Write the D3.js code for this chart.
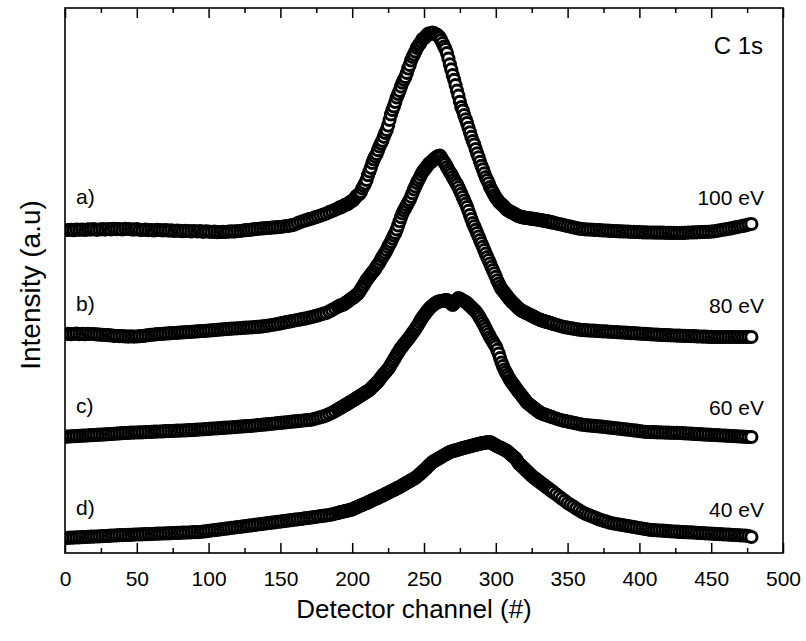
<!DOCTYPE html>
<html><head><meta charset="utf-8">
<script src="https://cdn.jsdelivr.net/npm/d3@7"></script>
<style>body{margin:0;background:#fff}svg{display:block}text{font-family:"Liberation Sans",Arial,sans-serif;fill:#000}</style>
</head><body><svg id="c" width="806" height="641"></svg>
<script>
// ---- data ----
const xTicks = [0,50,100,150,200,250,300,350,400,450,500];
const xMinorTicks = [25,75,125,175,225,275,325,375,425,475];
// detector channels sampled: every 2nd channel on the flanks, every channel across the peak region
const channels = [].concat(d3.range(0, 190, 2), d3.range(190, 341, 1), d3.range(342, 479, 2));
const energyLabels = ["100 eV","80 eV","60 eV","40 eV"];
const panelLabels = ["a)","b)","c)","d)"];
const s100eV = [
323,323,323.2,322.8,323.4,323.2,323.5,323,323.6,323.4,323.8,323.2,323.5,323.8,323.4,324,323.6,324.2,323.8,324,
323.5,324.2,324,323.7,323.4,323.8,323.2,323,323.4,322.8,323,322.6,323.2,323,322.6,322.8,322.4,322.6,322,322.4,
322.2,321.8,322.2,322,321.6,322,321.5,321.8,321.2,321.6,321.4,321,321.4,320.8,321,321.2,321,321.4,321.6,321.4,
322,322,322.5,322.8,323,323.4,323.8,324,324.5,324.6,325,325,325.4,325.6,325.8,326,326.5,327,327.2,327.8,
328.5,329.8,331,332,332.8,333.8,334.5,335.6,336.4,337.4,338.5,339.5,340.8,342,343.2,
344.4,345.3,345.8,346.2,347.2,348.1,348.5,349,350.2,351.4,
352,353.2,355,356.9,358,359.1,361,364.5,367,369.4,
373,377.8,381.5,385.2,390,393.6,396.4,399.1,402.8,406.6,
409.4,412.3,416.2,420.1,423,427.4,433,438.6,443,446.5,
451,455.6,459,462.2,466.4,470.3,473.2,476.1,480,484.4,
488,492.5,496,498.4,501.6,505,507.2,509,511.6,513.9,
514.8,516,518,519.3,519.2,519.6,520.3,520,518.7,518.3,
517.1,515.5,513,509.8,506.5,503.9,500,494.5,488.7,483.6,
478,473.2,468,462.3,457.3,451.2,446,442.4,438,433.7,
430,425.2,420.7,416.1,412,408.4,404,399.6,395.7,391.2,
387.2,383.7,379.6,376,372.8,369.7,366,363.2,360.8,357.9,
355.6,353.4,351.6,350,348.7,347.4,345.9,344.3,343,342.3,
341.4,340.6,339.9,339.2,338.3,337.4,336.8,336.4,335.8,335.6,
335.4,335.2,335,334.7,334.5,334.3,334.1,333.9,333.7,333.5,
333.2,332.9,332.7,332.4,332.1,331.9,331.6,331.3,331,330.6,
330.3,
329.7,329,328.3,327.7,327,326.3,325.7,325,324.3,
324,323.7,323.5,323.4,323.2,323,322.8,322.6,322.5,322.3,322.1,322,321.9,321.7,321.6,321.5,321.4,321.2,321.1,321,
320.8,320.7,320.6,320.5,320.5,320.4,320.4,320.3,320.3,320.2,320.2,320.1,320.1,320,320,320.1,320.2,320.4,320.5,320.6,
320.7,320.8,321,321.1,321.2,321.4,321.7,322.2,322.7,323.2,323.7,324.2,324.7,325.3,325.9,326.5,327.1,327.7,328.4,329];
const s80eV = [
219,219.2,218.8,219,219.3,218.9,219.1,218.8,219.2,219,219,218.6,218.4,218.2,218,217.8,217.6,217.2,217,216.8,
216.8,216.6,216.4,216.6,216.4,216.5,216.8,217,217.4,217.8,218.2,218.4,218.8,219,219.2,219.4,219.6,219.8,220,220.2,
220.4,220.6,220.8,221,221.2,221.4,221.6,221.8,222,222.2,222.4,222.7,222.9,223.2,223.4,223.7,223.9,224.1,224.3,224.5,
224.7,224.9,225.1,225.3,225.5,225.7,225.9,226.1,226.3,226.7,227.1,227.5,228,228.5,229,229.6,230.2,230.8,231.3,231.9,
232.5,233,233.6,234.1,234.7,235.3,236,236.8,237.6,238.5,239.3,240,241.6,243.1,244.7,
246.2,247.1,247.7,247.9,248.5,249.8,250.6,251.5,252.7,253.9,
254.8,255.6,256.9,258.3,259.3,261.2,263.6,265.9,267.9,270.6,
273,274.7,276.7,278.4,280.4,282.1,284.1,286.5,288.4,290.6,
293.3,295.9,298.1,300.4,303,305.9,308.7,311.3,314.4,317.6,
320.1,323.6,327.5,331.8,335.8,339.5,342.6,345.1,347.8,350.6,
353,356.2,359.8,363.5,366.6,369.9,372.8,375.3,378.2,380.9,
383,384.6,386.6,388.6,390,391,392.4,393.9,394.8,396.2,
397,397.4,395.6,393.1,391,388.8,386,383.2,381,378.7,
376,373.2,370.8,368.4,365.6,362.3,359.2,355.8,352.4,349.2,
346,342.1,338,333.9,330,326.7,323.2,319.9,316.4,312.9,
309.6,306.2,302.8,299.3,296,292.8,289.5,286.1,283,279.6,
276.2,272.6,269.4,266.6,264.1,262.3,260.4,258.5,256.7,254.8,
253,251.6,250.1,248.7,247.3,245.8,244.4,243.3,242.3,241.6,
240.9,240.1,239.4,238.7,238,237.3,236.6,235.8,235.1,234.4,
233.7,233.1,232.6,232.1,231.7,231.3,230.9,230.4,230,229.5,
229.1,
228.2,227.4,226.5,225.8,225.3,224.8,224.3,223.8,223.3,
222.9,222.8,222.6,222.4,222.3,222.1,221.9,221.7,221.6,221.4,221.2,221,220.8,220.7,220.5,220.3,220.1,219.9,219.8,219.6,
219.4,219.2,219.1,218.9,218.7,218.5,218.3,218.2,218,217.9,217.8,217.7,217.5,217.4,217.3,217.2,217.1,217,216.9,216.8,
216.6,216.5,216.4,216.3,216.2,216.1,216,216,216,216,216,216,216,216,216,216,216,216,216,216];
const s60eV = [
116.3,116.4,116.6,116.8,116.9,117.1,117.3,117.4,117.6,117.8,117.9,118.1,118.3,118.4,118.6,118.8,119,119.2,119.4,119.6,
119.8,120,120.1,120.3,120.4,120.5,120.6,120.7,120.9,121,121.1,121.3,121.4,121.5,121.6,121.8,121.9,122,122.2,122.3,
122.4,122.5,122.6,122.8,122.9,123.1,123.3,123.5,123.7,123.9,124.1,124.3,124.5,124.7,124.9,125.1,125.3,125.5,125.7,125.9,
126.2,126.4,126.6,126.8,127,127.2,127.5,127.8,128,128.3,128.6,128.9,129.2,129.5,129.8,130.1,130.4,130.7,131,131.3,
131.6,131.9,132.2,132.5,132.8,133,133.4,134.2,135,135.8,136.6,137.6,139,140.3,141.8,
143.5,144.4,145.2,146,146.9,147.8,148.6,149.4,150.3,151.2,
152,152.9,153.8,154.8,155.7,156.6,157.5,158.4,159.3,160.3,
161.2,162,163,164.5,165.9,167.2,168.7,170.1,171.6,173.5,
175.3,177.2,179,180.6,182.3,184.1,186,188.5,190.9,193.3,
195.7,198.2,200.6,202.9,205,206.8,208.7,210.4,212.3,214.1,
216,218,220,222,224,226.3,228.5,231,233.5,235.7,
237.8,239.6,241.4,243.3,245,246.2,247.4,248.7,249.8,250.6,
251.3,251.7,251.9,252.1,252.4,252.8,253,251.8,250.5,249.2,
248,249.7,251.5,253.4,255,254.2,253.3,252.5,251.7,250.9,
250,248.6,247.1,245.7,244.3,242.9,241.4,239.6,237.5,235.1,
232.5,229.9,227.2,224.4,221.6,218.8,216,213.6,211.2,208.8,
206.4,203.1,199.5,195,190.5,186.9,183.4,180.8,178.2,175.6,
173,171,169,167,165,163,161.1,159.2,157.4,155.5,
153.7,151.8,150,148.9,147.8,146.7,145.6,144.4,143.3,142.2,
141.1,140.3,139.5,139,138.5,138,137.5,137,136.5,136,
135.5,
134.5,133.5,132.7,132.1,131.4,130.8,130.2,129.6,128.9,
128.3,128,127.7,127.4,127.1,126.9,126.6,126.3,126,125.6,125.3,125,124.7,124.3,124,123.6,123.3,123,122.6,122.3,
121.9,121.5,121.2,121,120.9,120.8,120.7,120.6,120.5,120.4,120.3,120.2,120.2,120.1,120,119.8,119.6,119.5,119.3,119.1,
118.9,118.8,118.6,118.4,118.3,118.1,118,117.8,117.7,117.5,117.3,117.2,117,116.8,116.7,116.5,116.3,116.2,116,116];
const s40eV = [
15,15.1,15.3,15.4,15.6,15.7,15.8,16,16.1,16.3,16.4,16.5,16.7,16.8,17,17.1,17.3,17.5,17.6,17.8,
17.9,18,18.1,18.2,18.4,18.5,18.6,18.7,18.8,18.9,19,19.2,19.3,19.4,19.5,19.6,19.7,19.8,20,20.1,
20.2,20.3,20.4,20.5,20.7,20.8,20.9,21,21.4,21.7,22.1,22.5,22.9,23.2,23.6,24,24.3,24.7,25.1,25.5,
25.8,26.2,26.6,26.9,27.3,27.7,28.1,28.5,28.8,29.2,29.6,30,30.3,30.7,31.1,31.4,31.8,32.2,32.6,32.9,
33.3,33.7,34,34.4,34.8,35.2,35.6,36,36.4,36.8,37.2,37.6,38,38.6,39.3,
40,40.4,40.8,41.2,41.5,41.9,42.2,42.5,42.8,43.2,
43.6,44.3,44.9,45.6,46.2,46.9,47.5,48.1,48.7,49.4,
50,50.6,51.3,52,52.7,53.4,54,54.6,55.3,56,
56.7,57.3,58,58.8,59.5,60.2,60.9,61.7,62.4,63.1,
63.8,64.6,65.3,66,66.8,67.7,68.5,69.4,70.2,71,
71.8,72.7,73.5,74.3,75.2,76.2,77.4,78.8,80.1,81.5,
82.8,84.1,85.5,86.9,88.3,89.7,91,91.9,92.7,93.5,
94.3,95.2,96,96.9,97.7,98.5,99.3,100.2,101,101.4,
101.8,102.3,102.7,103.1,103.5,103.9,104.3,104.8,105.2,105.6,
106,106.3,106.7,107.1,107.5,107.8,108.2,108.6,108.9,109.3,
109.6,109.9,110.2,110.4,110.6,110.8,111,110.1,109.3,108.5,
107.6,106.8,105.9,105.4,104.8,104,103.3,102.5,101.7,100.5,
99.2,97.9,96.7,95.5,94.2,91.9,89.6,88.2,86.9,85.5,
84.2,82.8,81.5,80.1,78.7,77.3,76,74.9,73.8,72.8,
71.7,70.6,69.5,68.4,67.3,66.2,65.2,64.1,63,61.9,
60.8,
58.7,56.5,54.3,52.2,50,48.2,46.4,44.5,42.7,
40.9,39.4,38.3,37.2,36,34.8,33.6,32.7,31.8,30.9,30,29.5,29,28.5,28,27.5,27,26.5,26,25.5,
25,24.5,24,23.5,23,22.9,22.7,22.5,22.3,22.1,21.9,21.7,21.5,21.3,21.1,20.9,20.8,20.7,20.6,20.4,
20.2,20,19.9,19.7,19.5,19.3,19.2,19,18.9,18.7,18.5,18.4,18.2,18,17.9,17.7,17.5,17.4,17,16];
const seriesList = [s100eV, s80eV, s60eV, s40eV];

// ---- layout ----
const W = 806, H = 641;
const m = {l: 65, r: 23, t: 8, b: 88};
const pw = W - m.l - m.r, ph = H - m.t - m.b;
const svg = d3.select("#c");
const x = d3.scaleLinear().domain([0, 500]).range([m.l, m.l + pw]);
const y = d3.scaleLinear().domain([0, 545]).range([m.t + ph, m.t]);

svg.append("defs").append("clipPath").attr("id","clip")
  .append("rect").attr("x", m.l).attr("y", m.t).attr("width", pw).attr("height", ph);

// points
const plot = svg.append("g").attr("clip-path","url(#clip)");
seriesList.forEach(vals => {
  plot.append("g").selectAll("circle")
    .data(channels.map((c, i) => ({c, v: vals[i]})).filter(d => d.v !== undefined))
    .join("circle")
    .attr("cx", d => x(d.c)).attr("cy", d => y(d.v))
    .attr("r", 5.6)
    .attr("fill", "#fff").attr("stroke", "#000").attr("stroke-width", 3);
});

// axes
const fmt = d3.format("d");
const gB = svg.append("g").attr("transform", `translate(0,${m.t + ph})`)
  .call(d3.axisBottom(x).tickValues(xTicks).tickFormat(fmt).tickSizeInner(-10).tickSizeOuter(0).tickPadding(18));
const gBm = svg.append("g").attr("transform", `translate(0,${m.t + ph})`)
  .call(d3.axisBottom(x).tickValues(xMinorTicks).tickFormat("").tickSizeInner(-5).tickSizeOuter(0));
const gT = svg.append("g").attr("transform", `translate(0,${m.t})`)
  .call(d3.axisTop(x).tickValues(xTicks).tickFormat("").tickSizeInner(-10).tickSizeOuter(0));
const gTm = svg.append("g").attr("transform", `translate(0,${m.t})`)
  .call(d3.axisTop(x).tickValues(xMinorTicks).tickFormat("").tickSizeInner(-5).tickSizeOuter(0));
[gB, gBm, gT, gTm].forEach(g => {
  g.select(".domain").remove();
  g.selectAll("line").attr("stroke", "#000").attr("stroke-width", 1.5);
  g.selectAll("text").attr("font-size", 21).attr("font-family", '"Liberation Sans",Arial,sans-serif').attr("fill","#000");
});

svg.append("rect").attr("x", m.l).attr("y", m.t).attr("width", pw).attr("height", ph)
  .attr("fill", "none").attr("stroke", "#000").attr("stroke-width", 1.6);

// labels
const lblY = [204, 311, 413, 515];
const eY = [205, 313, 415, 517];
panelLabels.forEach((t, i) => svg.append("text").attr("x", 76).attr("y", lblY[i]).attr("font-size", 21).text(t));
energyLabels.forEach((t, i) => svg.append("text").attr("x", 764).attr("y", eY[i]).attr("font-size", 21).attr("text-anchor","end").text(t));
svg.append("text").attr("x", 763).attr("y", 54).attr("font-size", 24).attr("text-anchor","end").text("C 1s");

svg.append("text").attr("x", 414).attr("y", 618).attr("font-size", 26).attr("text-anchor","middle").text("Detector channel (#)");
svg.append("text").attr("transform", `translate(40,${285}) rotate(-90)`).attr("font-size", 28).attr("text-anchor","middle").text("Intensity (a.u)");
</script></body></html>
